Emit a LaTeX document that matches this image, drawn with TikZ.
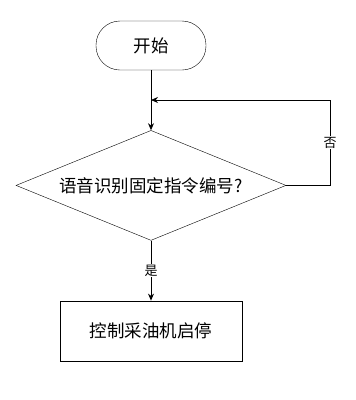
\documentclass[tikz,border=0pt]{standalone}
\usepackage{fontspec}
\setmainfont{Noto Sans CJK SC}
\usepackage{tikz}
\usetikzlibrary{arrows.meta, positioning, shapes.geometric, calc}

\begin{document}
\begin{tikzpicture}[
    x=1pt, y=-1pt,
    startbox/.style={rectangle, rounded corners=24pt, draw,
      minimum width=110pt, minimum height=49pt, font=\fontsize{17.5}{20}\selectfont},
    decision/.style={diamond, draw, aspect=2.45, inner sep=1pt,
      minimum width=270pt, minimum height=110pt, font=\fontsize{17.5}{20}\selectfont},
    process/.style={rectangle, draw, minimum width=182pt, minimum height=60pt,
      font=\fontsize{17.5}{20}\selectfont},
    lbl/.style={fill=white, inner sep=1pt, font=\fontsize{13}{15}\selectfont},
    arrow/.style={-{Stealth[length=7pt, width=6pt]}, line width=0.8pt}
]
\useasboundingbox (0,0) rectangle (356,400);
\node[startbox] (start) at (151,45.5) {开始};
\node[decision, below=60pt of start] (dec) {语音识别固定指令编号?};
\node[process, below=60pt of dec]    (act) {控制采油机启停};
\coordinate (join) at (start.south |- 0,100);
\draw[arrow] (start) -- (dec);
\draw[arrow] (dec.east) -- ++(44pt,0) |- node[lbl, pos=0.25] {否} (join);
\draw[arrow] (dec) -- node[lbl] {是} (act);
\end{tikzpicture}
\end{document}
